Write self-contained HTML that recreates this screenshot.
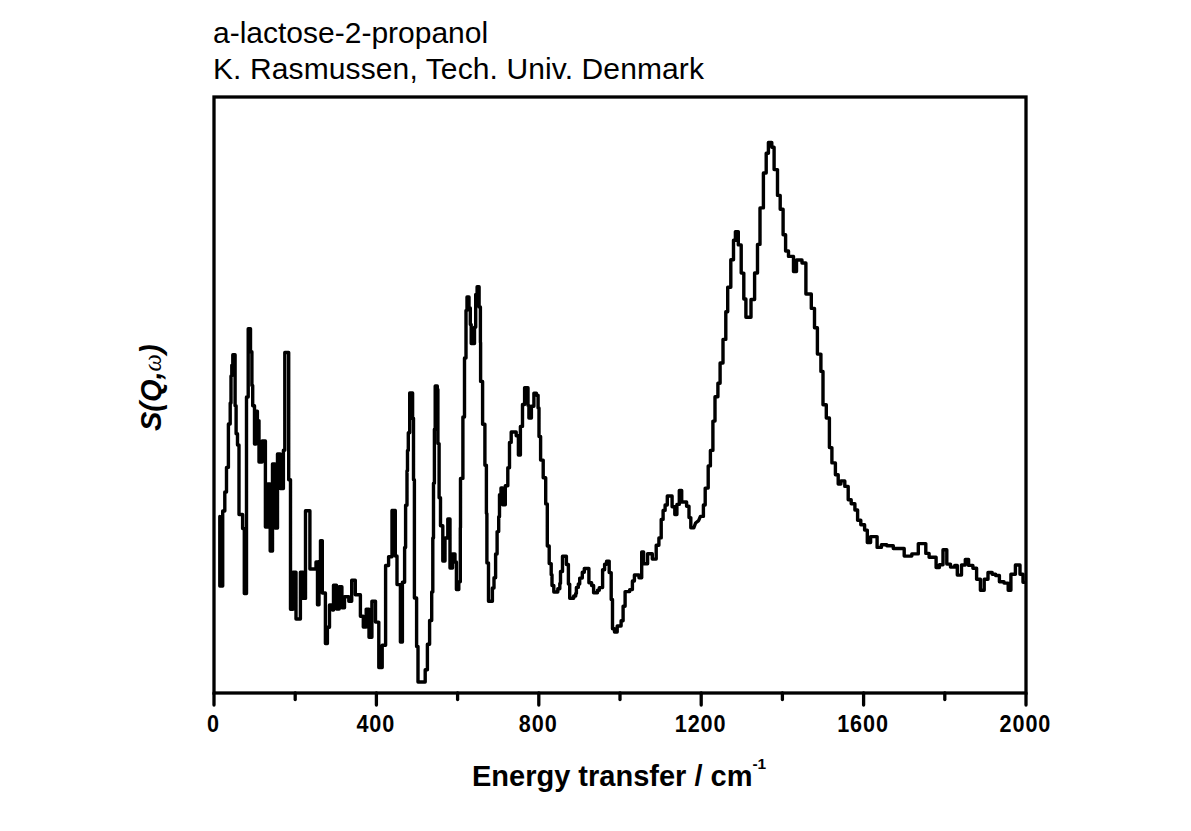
<!DOCTYPE html>
<html><head><meta charset="utf-8"><style>
html,body{margin:0;padding:0;background:#fff;}
svg{display:block;}
</style></head><body>
<svg width="1191" height="831" viewBox="0 0 1191 831">
<rect x="0" y="0" width="1191" height="831" fill="#fff"/>
<g font-family="'Liberation Sans', sans-serif" fill="#000">
<text x="213" y="43.2" font-size="30">a-lactose-2-propanol</text>
<text x="213" y="78.9" font-size="30" letter-spacing="0.11">K. Rasmussen, Tech. Univ. Denmark</text>
</g>
<path d="M219.8,516.5 L219.8,586 L222.7,586 L222.7,511 L224.8,511 L224.8,492 L226.5,492 L226.5,467.4 L228.4,467.4 L228.4,424 L230.2,424 L230.2,403 L231,403 L231,376 L231.8,376 L231.8,365.3 L232.8,365.3 L232.8,354.7 L235.1,354.7 L235.1,405.7 L236.1,405.7 L236.1,433.7 L237.5,433.7 L237.5,445 L239,445 L239,514.5 L242.6,514.5 L242.6,528.5 L244.3,528.5 L244.3,593.5 L246.5,593.5 L246.5,397 L248.2,397 L248.2,328.7 L250.5,328.7 L250.5,351.7 L251.9,351.7 L251.9,385.4 L252.7,385.4 L252.7,405.7 L254.5,405.7 L254.5,444 L256,444 L256,411.2 L257.4,411.2 L257.4,420.6 L259,420.6 L259,462 L262.1,462 L262.1,441 L265.4,441 L265.4,527 L267.6,527 L267.6,484 L270.2,484 L270.2,551 L272.5,551 L272.5,464 L275,464 L275,528 L277.5,528 L277.5,454 L280.3,454 L280.3,488.5 L283.4,488.5 L283.4,450.3 L284.8,450.3 L284.8,352.5 L288.7,352.5 L288.7,479.8 L290.5,479.8 L290.5,609.2 L293,609.2 L293,572.2 L296,572.2 L296,619 L300.4,619 L300.4,572.2 L303.2,572.2 L303.2,598.4 L305.5,598.4 L305.5,510.8 L309.9,510.8 L309.9,569 L316,569 L316,562 L317.5,562 L317.5,604.7 L319,604.7 L319,561.4 L320.5,561.4 L320.5,540.6 L322.3,540.6 L322.3,593 L325.4,593 L325.4,643.6 L327.4,643.6 L327.4,627.2 L329.5,627.2 L329.5,605 L332.5,605 L332.5,610 L333.5,610 L333.5,585.3 L336.5,585.3 L336.5,609 L339.2,609 L339.2,586.7 L341.9,586.7 L341.9,607.7 L344.5,607.7 L344.5,596.8 L348.8,596.8 L348.8,601.2 L351.7,601.2 L351.7,580.2 L355.3,580.2 L355.3,594.7 L360.4,594.7 L360.4,616.3 L363.3,616.3 L363.3,627.1 L366.2,627.1 L366.2,609.1 L369,609.1 L369,637.3 L371.9,637.3 L371.9,601.2 L375.5,601.2 L375.5,622.1 L378.8,622.1 L378.8,667.6 L382.2,667.6 L382.2,645.2 L385.6,645.2 L385.6,565.5 L388.6,565.5 L388.6,556.8 L392,556.8 L392,510.4 L395.3,510.4 L395.3,556 L397,556 L397,584.6 L400.4,584.6 L400.4,642 L402.4,642 L402.4,582.3 L404.6,582.3 L404.6,547.5 L405.6,547.5 L405.6,505.2 L407,505.2 L407,470.7 L407.5,470.7 L407.5,450.4 L408.3,450.4 L408.3,432.8 L409.7,432.8 L409.7,393 L412.6,393 L412.6,418.3 L413.5,418.3 L413.5,479.7 L414.4,479.7 L414.4,598 L416.6,598 L416.6,646.5 L418,646.5 L418,682 L425.2,682 L425.2,669.7 L427.4,669.7 L427.4,644.3 L429.6,644.3 L429.6,620.5 L431.7,620.5 L431.7,592 L432.8,592 L432.8,538 L433.5,538 L433.5,483.3 L434.4,483.3 L434.4,429.2 L435.2,429.2 L435.2,386 L437.3,386 L437.3,389.4 L437.9,389.4 L437.9,443.6 L439.1,443.6 L439.1,497.7 L440.5,497.7 L440.5,525.8 L442.8,525.8 L442.8,561 L445,561 L445,538 L447.8,538 L447.8,519 L450,519 L450,568 L452.5,568 L452.5,554 L455,554 L455,562 L456.4,562 L456.4,589.5 L458.8,589.5 L458.8,581.7 L460.3,581.7 L460.3,527.7 L460.5,527.7 L460.5,478.4 L462.9,478.4 L462.9,417 L464.5,417 L464.5,358 L466,358 L466,310.4 L467,310.4 L467,296.9 L469,296.9 L469,307.9 L470.3,307.9 L470.3,324.5 L471.2,324.5 L471.2,343.6 L474.5,343.6 L474.5,327.2 L475.7,327.2 L475.7,294.4 L477.1,294.4 L477.1,286.8 L479.1,286.8 L479.1,307 L480.4,307 L480.4,342.4 L480.6,342.4 L480.6,381.4 L482.6,381.4 L482.6,424.3 L484.9,424.3 L484.9,465.2 L486.4,465.2 L486.4,513.6 L486.9,513.6 L486.9,562.9 L488.5,562.9 L488.5,601.3 L492.4,601.3 L492.4,588 L494,588 L494,577.8 L495.6,577.8 L495.6,554 L497.1,554 L497.1,531.6 L498.7,531.6 L498.7,516.8 L499.5,516.8 L499.5,494.8 L501,494.8 L501,487.9 L502.7,487.9 L502.7,504.8 L505.3,504.8 L505.3,485.8 L507.8,485.8 L507.8,467.7 L509.5,467.7 L509.5,442.4 L511.2,442.4 L511.2,432 L516.2,432 L516.2,435.7 L518.4,435.7 L518.4,455.1 L520.4,455.1 L520.4,426.4 L522.5,426.4 L522.5,404.5 L524.6,404.5 L524.6,387.7 L528,387.7 L528,405.4 L528.9,405.4 L528.9,418 L531.4,418 L531.4,406.2 L533.9,406.2 L533.9,393.2 L536.4,393.2 L536.4,395.3 L538.1,395.3 L538.1,407.9 L539,407.9 L539,436.5 L540.6,436.5 L540.6,460.1 L543.2,460.1 L543.2,477.8 L545.7,477.8 L545.7,503.9 L547.3,503.9 L547.3,546 L549.2,546 L549.2,563.6 L551.2,563.6 L551.2,574.8 L552,574.8 L552,585.5 L553.8,585.5 L553.8,592 L557.8,592 L557.8,588.7 L559.8,588.7 L559.8,583.4 L560.5,583.4 L560.5,571.5 L562.5,571.5 L562.5,556.3 L566.4,556.3 L566.4,564.5 L568.4,564.5 L568.4,584.1 L569.7,584.1 L569.7,598.3 L573.7,598.3 L573.7,596 L575.7,596 L575.7,593.4 L576.4,593.4 L576.4,587.4 L578.3,587.4 L578.3,584 L579.7,584 L579.7,578.1 L582.3,578.1 L582.3,572.2 L584.3,572.2 L584.3,568.5 L588.9,568.5 L588.9,582.8 L591.6,582.8 L591.6,585.5 L593.6,585.5 L593.6,592.7 L597.5,592.7 L597.5,590.3 L599.3,590.3 L599.3,587.6 L602.6,587.6 L602.6,569.7 L604.6,569.7 L604.6,564.2 L606.6,564.2 L606.6,561.1 L609.2,561.1 L609.2,572.6 L611.2,572.6 L611.2,599.5 L612.5,599.5 L612.5,628.7 L614.5,628.7 L614.5,632 L617.2,632 L617.2,626 L621.1,626 L621.1,620.7 L623.1,620.7 L623.1,606.2 L625.1,606.2 L625.1,591.6 L629.7,591.6 L629.7,589.6 L632.4,589.6 L632.4,581 L634.4,581 L634.4,575 L639,575 L639,577.7 L641.7,577.7 L641.7,551.9 L643.6,551.9 L643.6,563.8 L647.6,563.8 L647.6,553.8 L652.3,553.8 L652.3,559.1 L656.2,559.1 L656.2,545.2 L658.9,545.2 L658.9,537.9 L661.2,537.9 L661.2,519.4 L663.1,519.4 L663.1,510.4 L665.1,510.4 L665.1,505 L667.3,505 L667.3,496 L672.1,496 L672.1,506.8 L674.8,506.8 L674.8,514.6 L676.9,514.6 L676.9,504.4 L679.3,504.4 L679.3,490.5 L681.7,490.5 L681.7,502 L686.6,502 L686.6,506.2 L689,506.2 L689,517.6 L690.8,517.6 L690.8,527.8 L693.8,527.8 L695.6,523 L698.6,520.6 L700.4,516.4 L703.4,516.4 L703.4,505 L705.2,505 L705.2,488.1 L708.2,488.1 L708.2,465.9 L710.4,465.9 L710.4,450.4 L712.9,450.4 L712.9,421.1 L715,421.1 L715,396.7 L717.9,396.7 L717.9,383.2 L720.1,383.2 L720.1,363 L723,363 L723,339.4 L725.8,339.4 L725.8,311.8 L727.7,311.8 L727.7,287.2 L730.8,287.2 L730.8,259.8 L733.5,259.8 L733.5,240.3 L735.4,240.3 L735.4,231.6 L738.3,231.6 L738.3,244.9 L741.2,244.9 L741.2,273.1 L743.8,273.1 L743.8,299 L745.9,299 L745.9,317.3 L751,317.3 L751,299.5 L754.6,299.5 L754.6,273 L757.5,273 L757.5,244.4 L760,244.4 L760,207.9 L763.4,207.9 L763.4,173 L766.2,173 L766.2,153.3 L768.4,153.3 L768.4,142.5 L771.8,142.5 L771.8,147.2 L774.1,147.2 L774.1,169.6 L777.5,169.6 L777.5,195.4 L780.2,195.4 L780.2,209.2 L783.1,209.2 L783.1,234.8 L785.6,234.8 L785.6,251 L788.5,251 L788.5,256.4 L793.5,256.4 L793.5,271.5 L796.5,271.5 L796.5,260 L802,260 L802,263 L805.9,263 L805.9,294 L811.3,294 L811.3,308.4 L814.5,308.4 L814.5,327.7 L817.4,327.7 L817.4,354.1 L820.9,354.1 L820.9,371.4 L823,371.4 L823,404.7 L826.3,404.7 L826.3,418 L829.4,418 L829.4,447.6 L831.9,447.6 L831.9,462.9 L835.4,462.9 L835.4,474.7 L838.2,474.7 L838.2,484.1 L840.9,484.1 L840.9,480.9 L844.8,480.9 L844.8,486.4 L848.2,486.4 L848.2,499.7 L851.2,499.7 L851.2,503.8 L854.9,503.8 L854.9,510 L857.6,510 L857.6,520.3 L860.8,520.3 L860.8,524.7 L864.6,524.7 L864.6,530.1 L867.3,530.1 L867.3,542.5 L870.6,542.5 L870.6,536.6 L877.1,536.6 L877.1,547.4 L881.4,547.4 L881.4,544.7 L886.8,544.7 L886.8,545.8 L893.3,545.8 L893.3,548.5 L904.2,548.5 L904.2,556.1 L911.8,556.1 L911.8,553.9 L918.3,553.9 L918.3,543.6 L925.8,543.6 L925.8,553.4 L929.1,553.4 L929.1,557.2 L936.1,557.2 L936.1,567.5 L939.4,567.5 L939.4,564.8 L943,564.8 L943,549.7 L946.8,549.7 L946.8,564.1 L950.5,564.1 L950.5,567.1 L954.7,567.1 L954.7,565.4 L957.3,565.4 L957.3,575.1 L961.5,575.1 L961.5,565 L965.3,565 L965.3,559.5 L968.6,559.5 L968.6,565.4 L972.9,565.4 L972.9,568.3 L976.6,568.3 L976.6,579.3 L980.4,579.3 L980.4,590.2 L984.2,590.2 L984.2,579.3 L988,579.3 L988,572.5 L992.2,572.5 L992.2,574.2 L995.6,574.2 L995.6,575.5 L999.4,575.5 L999.4,581.8 L1004,581.8 L1004,583.1 L1008.2,583.1 L1008.2,590.2 L1010.9,590.2 L1010.9,574.2 L1015.4,574.2 L1015.4,565 L1020,565 L1020,574.2 L1023,574.2 L1023,582.2 L1024.5,582.2" fill="none" stroke="#000" stroke-width="3.4" stroke-linejoin="round" stroke-linecap="round"/>
<rect x="214" y="97" width="812" height="596" fill="none" stroke="#000" stroke-width="3.3"/>
<g stroke="#000" stroke-width="3.3" stroke-linecap="round">
<line x1="214.00" y1="693" x2="214.00" y2="705" /><line x1="295.20" y1="693" x2="295.20" y2="699.5" /><line x1="376.40" y1="693" x2="376.40" y2="705" /><line x1="457.60" y1="693" x2="457.60" y2="699.5" /><line x1="538.80" y1="693" x2="538.80" y2="705" /><line x1="620.00" y1="693" x2="620.00" y2="699.5" /><line x1="701.20" y1="693" x2="701.20" y2="705" /><line x1="782.40" y1="693" x2="782.40" y2="699.5" /><line x1="863.60" y1="693" x2="863.60" y2="705" /><line x1="944.80" y1="693" x2="944.80" y2="699.5" /><line x1="1026.00" y1="693" x2="1026.00" y2="705" />
</g>
<g font-family="'Liberation Sans', sans-serif" font-weight="bold" font-size="24" fill="#000">
<text transform="translate(213.40,731.5) scale(0.9,1)" x="0" y="0" text-anchor="middle" letter-spacing="1">0</text><text transform="translate(375.80,731.5) scale(0.9,1)" x="0" y="0" text-anchor="middle" letter-spacing="1">400</text><text transform="translate(538.20,731.5) scale(0.9,1)" x="0" y="0" text-anchor="middle" letter-spacing="1">800</text><text transform="translate(700.60,731.5) scale(0.9,1)" x="0" y="0" text-anchor="middle" letter-spacing="1">1200</text><text transform="translate(863.00,731.5) scale(0.9,1)" x="0" y="0" text-anchor="middle" letter-spacing="1">1600</text><text transform="translate(1025.40,731.5) scale(0.9,1)" x="0" y="0" text-anchor="middle" letter-spacing="1">2000</text>
</g>
<text x="472" y="785.7" font-family="'Liberation Sans', sans-serif" font-weight="bold" font-size="29" fill="#000">Energy transfer / cm<tspan font-size="15.5" dy="-16.6">-1</tspan></text>
<g transform="translate(161,431) rotate(-90)">
<text x="0" y="0" font-family="'Liberation Sans', sans-serif" font-weight="bold" font-style="italic" font-size="29" fill="#000">S(Q,<tspan font-weight="normal" font-style="italic" font-size="24.5" font-family="'Liberation Serif', serif">ω</tspan>)</text>
</g>
</svg>
</body></html>
